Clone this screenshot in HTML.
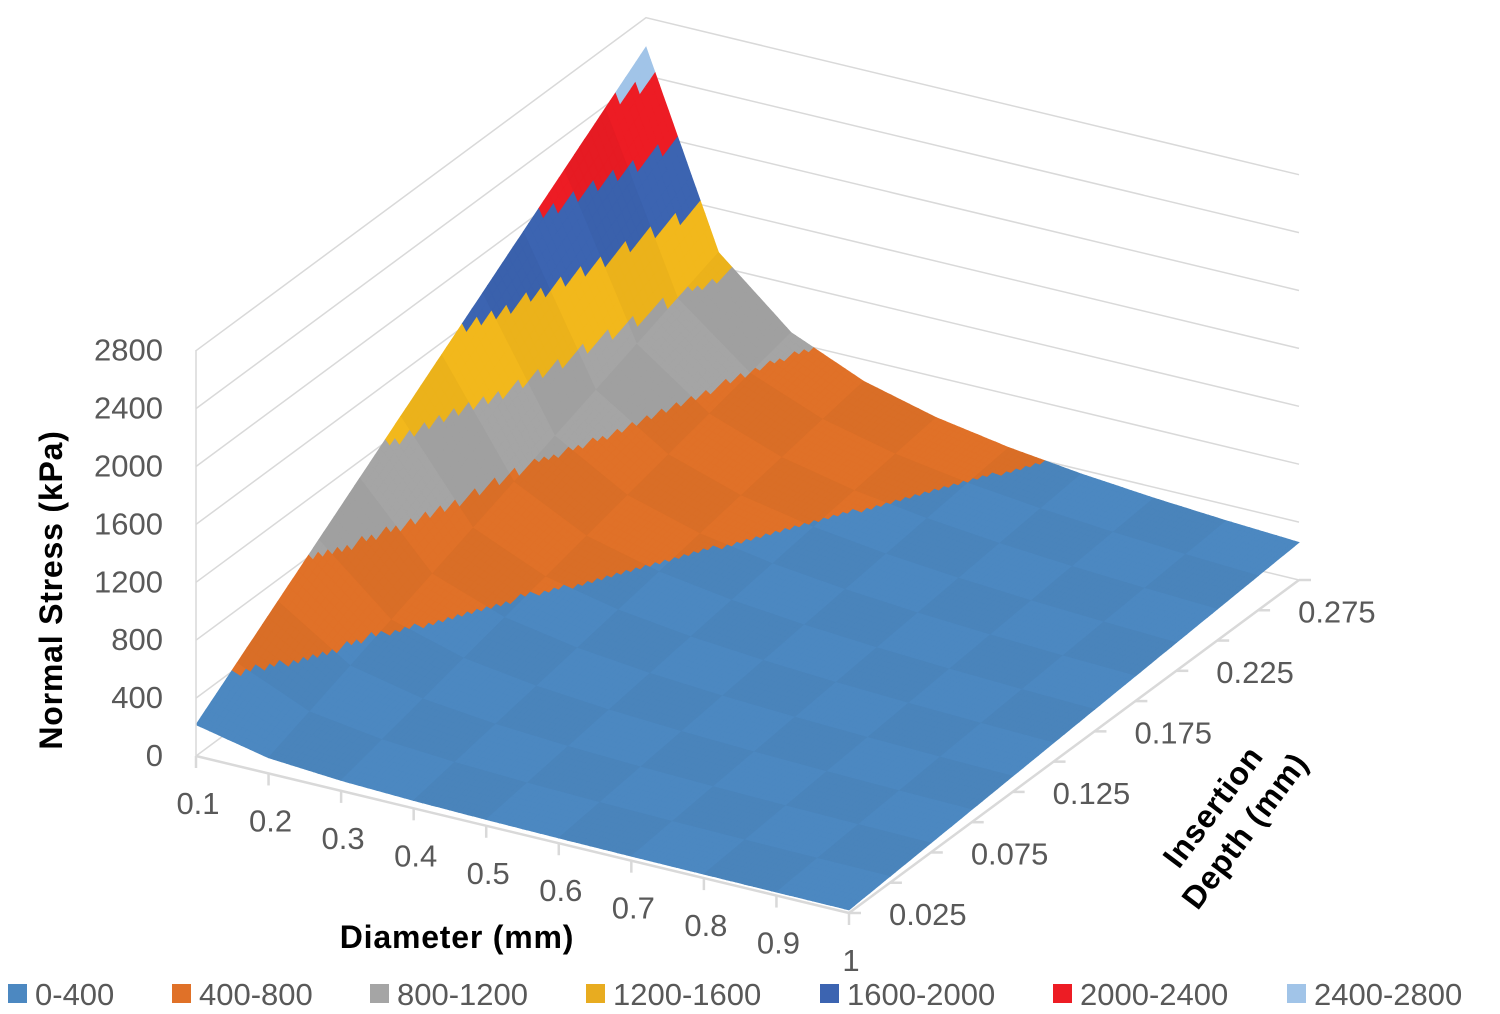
<!DOCTYPE html>
<html><head><meta charset="utf-8"><style>
body{margin:0;background:#fff;}
svg{display:block;font-family:"Liberation Sans",sans-serif;}
</style></head><body>
<svg id="s" width="1500" height="1014" viewBox="0 0 1500 1014" xmlns="http://www.w3.org/2000/svg">
<g id="grid" stroke="#d9d9d9" stroke-width="1.5" fill="none"></g>
<g id="surf"></g>
<g id="axes" stroke="#d9d9d9" stroke-width="2.5" fill="none"></g>
<g id="lab" fill="#595959" font-size="31"></g>
<text x="62" y="590" transform="rotate(-90 62 590)" text-anchor="middle" font-size="32" font-weight="bold" fill="#000" letter-spacing="0.8">Normal Stress (kPa)</text>
<text x="457" y="948" text-anchor="middle" font-size="32" font-weight="bold" fill="#000" letter-spacing="0.8">Diameter (mm)</text>
<g transform="translate(1228,818) rotate(-53)" font-size="32" font-weight="bold" fill="#000" text-anchor="middle" letter-spacing="0.8">
<text x="0" y="-8">Insertion</text><text x="0" y="32">Depth (mm)</text></g>
<g font-size="31" fill="#595959">
<rect x="8" y="984" width="19" height="19" fill="#4c88c1"/><text x="35" y="1005">0-400</text>
<rect x="172" y="984" width="19" height="19" fill="#e07128"/><text x="199" y="1005">400-800</text>
<rect x="370" y="984" width="19" height="19" fill="#a5a5a5"/><text x="397" y="1005">800-1200</text>
<rect x="586" y="984" width="19" height="19" fill="#e8ac20"/><text x="613" y="1005">1200-1600</text>
<rect x="820" y="984" width="19" height="19" fill="#3c64b1"/><text x="847" y="1005">1600-2000</text>
<rect x="1053" y="984" width="19" height="19" fill="#ed1c24"/><text x="1080" y="1005">2000-2400</text>
<rect x="1287" y="984" width="19" height="19" fill="#a1c4e8"/><text x="1314" y="1005">2400-2800</text>
</g>
</svg>
<script>
var NS="http://www.w3.org/2000/svg";
function P(d,h,z){var a=(d-0.1)/0.9,b=(h-0.025)/0.275;return [196+a*653+b*450,756+a*157-b*333-0.1446*z];}
function el(p,t,at,txt){var e=document.createElementNS(NS,t);for(var k in at)e.setAttribute(k,at[k]);if(txt!=null)e.textContent=txt;document.getElementById(p).appendChild(e);return e;}
var ZS=57.9;
for(var k=0;k<=7;k++){
 el("grid","polyline",{points:"196,"+(756-ZS*k)+" 646,"+(423-ZS*k)+" 1299,"+(580-ZS*k)});
 el("lab","text",{x:163,y:766-ZS*k,"text-anchor":"end"},String(400*k));
}
el("axes","line",{x1:196,y1:756,x2:849,y2:913});
el("axes","line",{x1:849,y1:913,x2:1299,y2:580});
el("axes","line",{x1:196,y1:756,x2:196,y2:350,"stroke-width":1.5});
for(var i=0;i<10;i++){var d=0.1+i*0.1,p=P(d,0.025,0);el("axes","line",{x1:p[0],y1:p[1],x2:p[0],y2:p[1]+12});
 el("lab","text",{x:p[0]+2,y:p[1]+58,"text-anchor":"middle"},i==9?"1":d.toFixed(1));}
for(var j=0;j<12;j++){var h=0.025+j*0.025,p=P(1,h,0);el("axes","line",{x1:p[0],y1:p[1],x2:p[0]+12,y2:p[1]});
 if(j%2==0)el("lab","text",{x:p[0]+40,y:p[1]+12},h.toFixed(3));}
var cols=["#4c88c1","#e07128","#a5a5a5","#f2b81c","#3c64b1","#ed1c24","#a1c4e8"];
function Zn(i,j){var d=0.1+0.1*i,h=0.025+0.025*j;return 866.7*h/d;}
function Z(u,v){ // u in [0,9], v in [0,11]
 var i=Math.min(8,Math.floor(u)),j=Math.min(10,Math.floor(v)),fu=u-i,fv=v-j;
 return Zn(i,j)*(1-fu)*(1-fv)+Zn(i+1,j)*fu*(1-fv)+Zn(i,j+1)*(1-fu)*fv+Zn(i+1,j+1)*fu*fv;}
function shade(c,f){var n=parseInt(c.slice(1),16),r=n>>16,g=(n>>8)&255,b=n&255;
 function q(v){return Math.max(0,Math.min(255,Math.round(v*f)));}return "rgb("+q(r)+","+q(g)+","+q(b)+")";}
var SU=16,SV=8,ND=9*SU,NH=11*SV,out=[];
for(var j=NH-1;j>=0;j--){for(var i=0;i<ND;i++){
 var u0=i/SU,u1=(i+1)/SU,v0=j/SV,v1=(j+1)/SV;
 var z=Z((u0+u1)/2,(v0+v1)/2);var ci=Math.min(6,Math.floor(z/400));
 var gi=Math.floor(u0),gj=Math.floor(v0);
 var f=((gi+gj)%2==0)?1.0:0.97;
 var c=shade(cols[ci],f);
 function Q(u,v){return P(0.1+0.1*u,0.025+0.025*v,Z(u,v));}
 var a=Q(u0,v0),b=Q(u1,v0),cc=Q(u1,v1),dd=Q(u0,v1);
 out.push('<polygon points="'+a[0].toFixed(1)+','+a[1].toFixed(1)+' '+b[0].toFixed(1)+','+b[1].toFixed(1)+' '+cc[0].toFixed(1)+','+cc[1].toFixed(1)+' '+dd[0].toFixed(1)+','+dd[1].toFixed(1)+'" fill="'+c+'" stroke="'+c+'" stroke-width="0.8"/>');
}}
document.getElementById("surf").innerHTML=out.join("");
</script>
</body></html>
